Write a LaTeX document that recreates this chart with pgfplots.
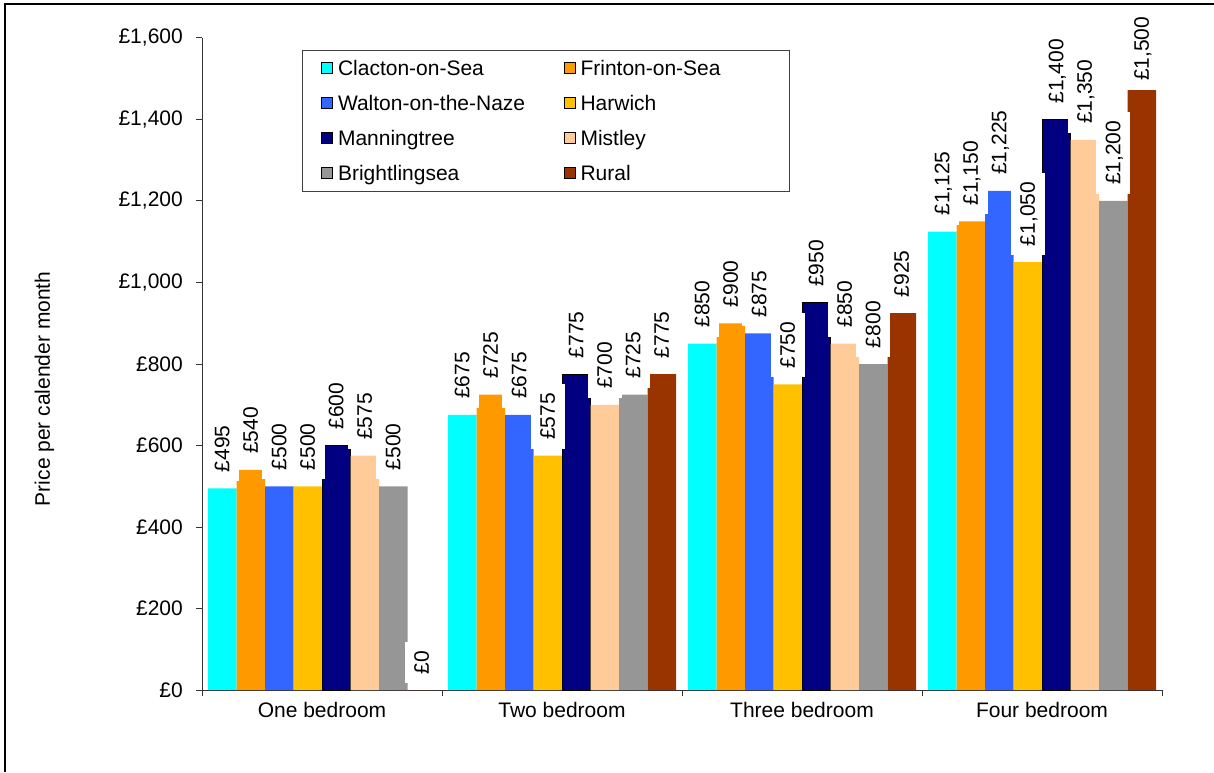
\documentclass[border=0pt]{standalone}
\usepackage{fontspec}
\setmainfont{Liberation Sans}
\usepackage{pgfplots}
\usepackage{pgfplotstable}
\pgfplotsset{compat=1.18}

\definecolor{clacton}{HTML}{00FFFF}
\definecolor{frinton}{HTML}{FF9900}
\definecolor{walton}{HTML}{3366FF}
\definecolor{harwich}{HTML}{FFC000}
\definecolor{manning}{HTML}{000080}
\definecolor{mistley}{HTML}{FFCC99}
\definecolor{bright}{HTML}{969696}
\definecolor{rural}{HTML}{993300}

\newcommand\chartfont{\fontsize{21pt}{25pt}\selectfont}

% monthly rent per area; rurallab is the printed label (bar drawn at 1475, labelled 1500)
% ruralgap: gap (pt) under the rural label, the top one is pushed down to stay inside the frame
\pgfplotstableread{
x clacton frinton walton harwich manning mistley bright rural rurallab ruralgap
0 495  540  500  500  600  575  500  0    0    7
1 675  725  675  575  775  700  725  775  775  7
2 850  900  875  750  950  850  800  925  925  7
3 1125 1150 1225 1050 1400 1350 1200 1475 1500 -1
}\prices

\begin{document}
\begin{tikzpicture}
\begin{axis}[
    at={(0pt,0pt)}, anchor=south west,
    scale only axis, width=960pt, height=652pt,
    xmin=-0.5, xmax=3.5, ymin=0, ymax=1600,
    enlargelimits=false, clip=false,
    set layers, mark layer=axis foreground,
    ybar=0pt, bar width=28.5pt,
    axis x line*=bottom, axis y line*=left,
    axis line style={black!80, line width=1pt},
    tick align=outside, major tick length=6pt, minor tick length=6pt,
    tick style={black!80, line width=1pt},
    xtick={0,1,2,3},
    xticklabels={One bedroom,Two bedroom,Three bedroom,Four bedroom},
    major x tick style={draw=none},
    minor xtick={-0.5,0.5,1.5,2.5,3.5},
    ytick={0,200,...,1600},
    yticklabel={£\pgfmathprintnumber[assume math mode=true]{\tick}},
    /pgf/number format/1000 sep={,},
    ticklabel style={font=\chartfont, inner sep=0pt},
    xticklabel style={yshift=-6pt},
    yticklabel style={xshift=-13pt},
    ylabel={Price per calender month},
    every axis y label/.style={at={(axis description cs:-0.164,0.462)}, rotate=90, anchor=center, font=\chartfont},
    point meta=explicit,
    nodes near coords={£\pgfmathprintnumber[assume math mode=true]{\pgfplotspointmeta}},
    every node near coord/.append style={rotate=90, anchor=west, font=\chartfont,
        fill=white, inner xsep=9pt, inner ysep=8pt, outer xsep=7pt, outer ysep=0pt,
        text height=16pt, text depth=2pt},
    legend columns=2,
    legend cell align=left,
    legend image code/.code={\draw[#1] (0pt,-5.5pt) rectangle (11pt,5.5pt);},
    legend style={at={(axis description cs:0.12396,0.9655)}, anchor=north west,
        draw=none, fill=none, inner sep=0pt, outer sep=0pt, font=\chartfont,
        row sep=20pt, nodes={inner sep=0pt, text height=15pt, text depth=0pt},
        /tikz/every odd column/.append style={column sep=5pt},
        /tikz/every even column/.append style={column sep=39pt}},
]
\addplot[fill=clacton, draw=none] table[x=x, y=clacton, meta=clacton] {\prices};
\addplot[fill=frinton, draw=none] table[x=x, y=frinton, meta=frinton] {\prices};
\addplot[fill=walton, draw=none] table[x=x, y=walton, meta=walton] {\prices};
\addplot[fill=harwich, draw=none] table[x=x, y=harwich, meta=harwich] {\prices};
\addplot[fill=manning, draw=black, line width=1pt] table[x=x, y=manning, meta=manning] {\prices};
\addplot[fill=mistley, draw=none] table[x=x, y=mistley, meta=mistley] {\prices};
\addplot[fill=bright, draw=none] table[x=x, y=bright, meta=bright] {\prices};
\addplot[fill=rural, draw=none,
    visualization depends on={\thisrow{ruralgap} \as \labgap},
    every node near coord/.append style={outer xsep=\labgap pt}]
    table[x=x, y=rural, meta=rurallab] {\prices};
\legend{Clacton-on-Sea, Frinton-on-Sea, Walton-on-the-Naze, Harwich, Manningtree, Mistley, Brightlingsea, Rural}
\draw[black!75, line width=1pt] (axis description cs:0.10417,0.98006) rectangle (axis description cs:0.61146,0.76534);
\end{axis}
\draw[line width=2.5pt] (-197pt,-82pt) -- (-197pt,686pt) -- (1012pt,686pt);
\pgfresetboundingbox
\path (-202pt,-82pt) rectangle (1012pt,690pt);
\end{tikzpicture}
\end{document}
